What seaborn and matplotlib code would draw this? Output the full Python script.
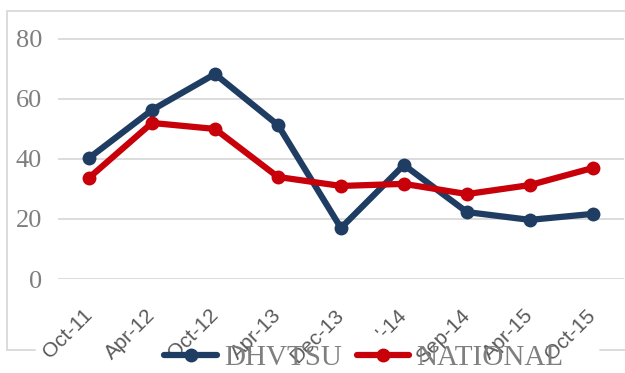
import matplotlib
matplotlib.use("Agg")
import matplotlib.pyplot as plt
from matplotlib.lines import Line2D
import pandas as pd
import seaborn as sns

periods = ["Oct-11", "Apr-12", "Oct-12", "Apr-13", "Dec-13", "Jun-14", "Sep-14", "Apr-15", "Oct-15"]
period_labels = ["Oct-11", "Apr-12", "Oct-12", "Apr-13", "Dec-13", "'-14", "Sep-14", "Apr-15", "Oct-15"]
dhvtsu = [40.3, 56.3, 68.3, 51.3, 17.0, 38.0, 22.3, 19.7, 21.7]
national = [33.7, 52.0, 50.0, 34.0, 31.0, 31.7, 28.3, 31.3, 37.0]
series_names = ["DHVTSU", "NATIONAL"]
y_ticks = [0, 20, 40, 60, 80]

df = pd.DataFrame({
    "period": periods * 2,
    "value": dhvtsu + national,
    "series": [series_names[0]] * len(periods) + [series_names[1]] * len(periods),
})

colors = {"DHVTSU": "#1f3d63", "NATIONAL": "#c8000a"}

sns.set_theme(style="white")
plt.rcParams["font.family"] = ["Liberation Serif", "DejaVu Sans"]

fig = plt.figure(figsize=(6.25, 3.73), dpi=100)
ax = fig.add_axes([0.092, 0.252, 0.907, 0.692])

sns.lineplot(data=df, x="period", y="value", hue="series", palette=colors,
             marker="o", markersize=10, markeredgewidth=0, linewidth=4.5,
             sort=False, legend=False, ax=ax, zorder=3)

ax.set_xlim(-0.5, len(periods) - 0.5)
ax.set_ylim(0, 86)
ax.set_yticks(y_ticks)
ax.set_yticklabels([str(v) for v in y_ticks], fontsize=19, color="#7f7f7f")
ax.yaxis.grid(True, color="#d9d9d9", linewidth=1.3)
ax.xaxis.grid(False)
ax.tick_params(axis="y", length=0, pad=11)
ax.tick_params(axis="x", length=0, pad=24)
ax.set_xticks(range(len(periods)))
ax.set_xticklabels(period_labels, rotation=45, ha="right", va="center", rotation_mode="anchor",
                   fontsize=15, color="#595959", family=["Liberation Sans", "DejaVu Sans"])
ax.set_xlabel("")
ax.set_ylabel("")
for s in ax.spines.values():
    s.set_visible(False)

# chart-area border
W, H = 625.0, 373.0
border = dict(color="#d9d9d9", linewidth=1.3, transform=fig.transFigure)
for xs, ys in [([7, 7], [11, 350]), ([7, 640], [11, 11]), ([7, 35], [350, 350]), ([600, 640], [350, 350])]:
    fig.add_artist(Line2D([x / W for x in xs], [1 - y / H for y in ys], **border))

handles = [Line2D([], [], color=colors[n], marker="o", markersize=10, markeredgewidth=0, linewidth=4.5)
           for n in series_names]
leg = fig.legend(handles, series_names, loc="center", bbox_to_anchor=(364 / W, 1 - 358 / H),
                 ncol=2, frameon=False, fontsize=21, handlelength=1.8, handletextpad=0.25,
                 columnspacing=0.5, borderpad=0)
for t in leg.get_texts():
    t.set_color("#7f7f7f")

fig.savefig("out.png", dpi=100)
